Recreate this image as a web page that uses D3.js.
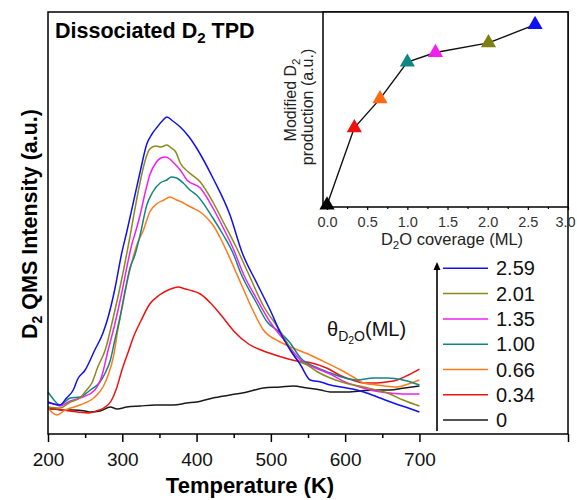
<!DOCTYPE html>
<html><head><meta charset="utf-8">
<script src="https://cdn.jsdelivr.net/npm/d3@7"></script>
<style>
body{margin:0;background:#fff;}
svg text{font-family:Arial,"Liberation Sans",Helvetica,sans-serif;}
</style></head>
<body><svg id="c" width="577" height="500"></svg>
<script>
// ---------- DATA ----------
const coverageLabels = ["2.59","2.01","1.35","1.00","0.66","0.34","0"];
const coverageValues = [2.59, 2.01, 1.35, 1.00, 0.66, 0.34, 0];
const seriesColors = ["#1010f0","#8a8a1e","#f020f0","#118585","#ff7a1a","#f01010","#1a1a1a"];

const tempBlue = [200,208,216,225,234,240,250,263,274,281,290,299,306,315,324,333,340,347,355,360,368,378,390,400,422,445,461,481,499,513,526,540,553,567,580,594,610,625,647,665,685,700];
const intBlue  = [32,30,29,36,44,55,64,84,101,117,145,180,202,232,262,290,300,307,314,317,313,307,297,286,256,219,182,151,124,101,84,69,54,52,49,47,45,42,36,31,26,22];

const tempOlive = [200,216,230,243,252,259,267,277,288,295,302,310,317,324,331,337,345,352,360,366,372,378,389,405,422,436,452,470,490,509,522,536,549,563,580,600,625,657,678,700];
const intOlive  = [27,26,32,36,44,51,67,84,117,140,165,196,225,252,274,285,288,287,289,286,282,271,262,252,232,212,189,160,128,107,91,74,69,62,56,51,47,41,34,28];

const tempMagenta = [200,208,216,230,247,263,272,281,290,299,307,313,317,324,331,337,346,352,358,364,368,378,387,405,422,436,449,463,481,499,520,540,560,580,600,620,640,660,680,700];
const intMagenta  = [31,30,28,33,37,44,57,84,110,140,170,190,200,219,242,259,272,276,277,275,272,264,254,246,226,206,186,160,135,112,92,74,66,60,52,47,43,41,40,40];

const tempTeal = [200,207,216,230,243,257,270,277,284,290,297,304,310,317,324,333,341,351,360,366,373,382,391,400,422,436,449,460,480,495,510,525,540,560,580,600,616,638,657,678,700];
const intTeal  = [42,35,29,36,37,44,52,61,74,94,117,144,165,179,199,229,242,251,254,257,256,251,244,239,216,199,181,160,132,112,103,92,76,67,61,56,54,56,56,54,49];

const tempOrange = [200,212,223,243,263,274,281,288,294,301,308,314,320,328,337,348,356,364,373,380,387,395,405,414,422,432,441,460,475,490,510,530,550,567,594,611,625,643,670,685,700];
const intOrange  = [26,19,24,29,37,47,59,77,104,131,157,175,190,203,222,231,234,237,234,232,229,226,222,216,209,196,182,150,125,104,93,86,80,74,64,57,51,49,47,50,54];

const tempRed = [200,210,220,240,255,265,275,285,292,300,308,315,325,337,350,365,375,385,395,405,420,435,450,470,490,510,535,555,575,595,610,625,640,655,670,685,700];
const intRed  = [26,25,24,22,21,23,26,33,45,65,82,97,113,130,139,145,147,145,143,140,130,117,103,90,83,78,73,71,66,58,54,51,51,52,54,59,65];

const tempBlack = [200,207,220,234,250,257,270,284,293,306,324,345,369,387,400,422,445,468,490,513,530,549,567,580,600,620,640,660,680,700];
const intBlack  = [25,25,24,24,23,22,23,27,25,27,28,29,29,31,32,36,39,42,46,47,48,46,44,42,42,43,44,44,46,48];

const tempTicksMajor = [200,300,400,500,600,700,900];
const tempTicksMinor = [250,350,450,550,650];
const tempTickLabels = ["200","300","400","500","600","700",""];

// inset
const insetCoverage = [0, 0.34, 0.66, 1.00, 1.35, 2.01, 2.59];
const insetProduction = [0, 0.40, 0.55, 0.74, 0.79, 0.84, 0.935];
const insetColors = ["#000000","#f01010","#ff6a10","#118585","#f020f0","#7f7f10","#1010f0"];
const insetTicks = [0, 0.5, 1.0, 1.5, 2.0, 2.5, 3.0];
const insetMinor = [0.25,0.75,1.25,1.75,2.25,2.75];

// ---------- DRAW ----------
const svg = d3.select("#c");
const M = {l:48, r:568, t:12, b:434};
const x = d3.scaleLinear().domain([200,900]).range([M.l, M.r]);
const y = d3.scaleLinear().domain([0,422]).range([M.b, M.t]);

const series = [
  [tempBlue,intBlue],[tempOlive,intOlive],[tempMagenta,intMagenta],[tempTeal,intTeal],
  [tempOrange,intOrange],[tempRed,intRed],[tempBlack,intBlack]
];
const line = d3.line().x(d=>x(d[0])).y(d=>y(d[1])).curve(d3.curveMonotoneX);
for (let i = series.length-1; i >= 0; i--) {
  const pts = series[i][0].map((t,j)=>[t, series[i][1][j]]);
  svg.append("path").attr("d", line(pts)).attr("fill","none")
    .attr("stroke", seriesColors[i]).attr("stroke-width",1.5).attr("stroke-linejoin","round");
}

// frame
svg.append("rect").attr("x",M.l).attr("y",M.t).attr("width",M.r-M.l).attr("height",M.b-M.t)
  .attr("fill","none").attr("stroke","#000").attr("stroke-width",1.5);

// x axis
const gx = svg.append("g").attr("transform",`translate(0,${M.b})`)
  .call(d3.axisBottom(x).tickValues(tempTicksMajor).tickSize(8)
    .tickFormat((d,i)=>tempTickLabels[i]));
gx.select(".domain").remove();
gx.selectAll("line").attr("stroke","#000").attr("stroke-width",1.5);
gx.selectAll("text").attr("font-size",19).attr("fill","#111").attr("dy","1.1em")
  .style("font-family","Arial, 'Liberation Sans', sans-serif");
const gxm = svg.append("g").attr("transform",`translate(0,${M.b})`)
  .call(d3.axisBottom(x).tickValues(tempTicksMinor).tickSize(4).tickFormat(""));
gxm.select(".domain").remove();
gxm.selectAll("line").attr("stroke","#000").attr("stroke-width",1.5);

// axis titles
svg.append("text").attr("x",250).attr("y",493).attr("text-anchor","middle")
  .attr("font-size",22).attr("font-weight","bold").text("Temperature (K)");
const yl = svg.append("text").attr("transform","translate(37,224) rotate(-90)")
  .attr("text-anchor","middle").attr("font-size",21.5).attr("font-weight","bold");
yl.append("tspan").text("D");
yl.append("tspan").attr("font-size",14).attr("dy",5).text("2");
yl.append("tspan").attr("dy",-5).text(" QMS Intensity (a.u.)");

// title
const tt = svg.append("text").attr("x",55).attr("y",38).attr("font-size",21.5).attr("font-weight","bold");
tt.append("tspan").text("Dissociated D");
tt.append("tspan").attr("font-size",15).attr("dy",5).text("2");
tt.append("tspan").attr("dy",-5).text(" TPD");

// legend
const legY0 = 268.3, legStep = 25.3;
coverageLabels.forEach((lab,i)=>{
  const yy = legY0 + i*legStep;
  svg.append("line").attr("x1",443).attr("x2",488).attr("y1",yy).attr("y2",yy)
    .attr("stroke",seriesColors[i]).attr("stroke-width",1.5);
  svg.append("text").attr("x",496).attr("y",yy+7).attr("font-size",20).attr("fill","#111").text(lab);
});
svg.append("line").attr("x1",437).attr("x2",437).attr("y1",431).attr("y2",268)
  .attr("stroke","#000").attr("stroke-width",1.6);
svg.append("path").attr("d",d3.line()([[433.5,270],[437,262],[440.5,270]])+"Z").attr("fill","#000");

const th = svg.append("text").attr("x",327).attr("y",336).attr("font-size",20).attr("fill","#111");
th.append("tspan").text("θ");
th.append("tspan").attr("font-size",14).attr("dy",5).text("D");
th.append("tspan").attr("font-size",10.5).attr("dy",3).text("2");
th.append("tspan").attr("font-size",14).attr("dy",-3).text("O");
th.append("tspan").attr("dy",-5).text("(ML)");

// ---------- INSET ----------
const I = {l:323, r:568, t:12, b:207};
const ix = d3.scaleLinear().domain([-0.05,3.0]).range([I.l, I.r]);
const iy = d3.scaleLinear().domain([0,1]).range([205, I.t]);
svg.append("rect").attr("x",I.l).attr("y",I.t).attr("width",I.r-I.l).attr("height",I.b-I.t)
  .attr("fill","#fff").attr("stroke","#000").attr("stroke-width",1.5);
const ipts = insetCoverage.map((c,i)=>[c, insetProduction[i]]);
svg.append("path").attr("d", d3.line().x(d=>ix(d[0])).y(d=>iy(d[1]))(ipts))
  .attr("fill","none").attr("stroke","#111").attr("stroke-width",1.4);
const tri = d3.symbol().type(d3.symbolTriangle).size(100);
ipts.forEach((p,i)=>{
  svg.append("path").attr("d",tri()).attr("transform",`translate(${ix(p[0])},${iy(p[1])})`)
    .attr("fill",insetColors[i]);
});
const gix = svg.append("g").attr("transform",`translate(0,${I.b})`)
  .call(d3.axisBottom(ix).tickValues(insetTicks).tickSize(3).tickFormat(d3.format(".1f")));
gix.select(".domain").remove();
gix.selectAll("line").attr("stroke","#000").attr("stroke-width",1.2);
gix.selectAll("text").attr("font-size",14.5).attr("fill","#333").attr("dy","0.95em")
  .style("font-family","Arial, 'Liberation Sans', sans-serif");
gix.selectAll("text").filter(d=>d===3.0).attr("x",-3);
const gixm = svg.append("g").attr("transform",`translate(0,${I.b})`)
  .call(d3.axisBottom(ix).tickValues(insetMinor).tickSize(2).tickFormat(""));
gixm.select(".domain").remove();
gixm.selectAll("line").attr("stroke","#000").attr("stroke-width",1.2);

const ixl = svg.append("text").attr("x",452).attr("y",245).attr("text-anchor","middle")
  .attr("font-size",16.5).attr("fill","#222");
ixl.append("tspan").text("D");
ixl.append("tspan").attr("font-size",11.5).attr("dy",4).text("2");
ixl.append("tspan").attr("dy",-4).text("O coverage (ML)");

const iyl1 = svg.append("text").attr("transform","translate(296,100) rotate(-90)")
  .attr("text-anchor","middle").attr("font-size",16).attr("fill","#222");
iyl1.append("tspan").text("Modified D");
iyl1.append("tspan").attr("font-size",11.5).attr("dy",4).text("2");
svg.append("text").attr("transform","translate(313,107) rotate(-90)")
  .attr("text-anchor","middle").attr("font-size",16).attr("fill","#222").text("production (a.u.)");
</script></body></html>
